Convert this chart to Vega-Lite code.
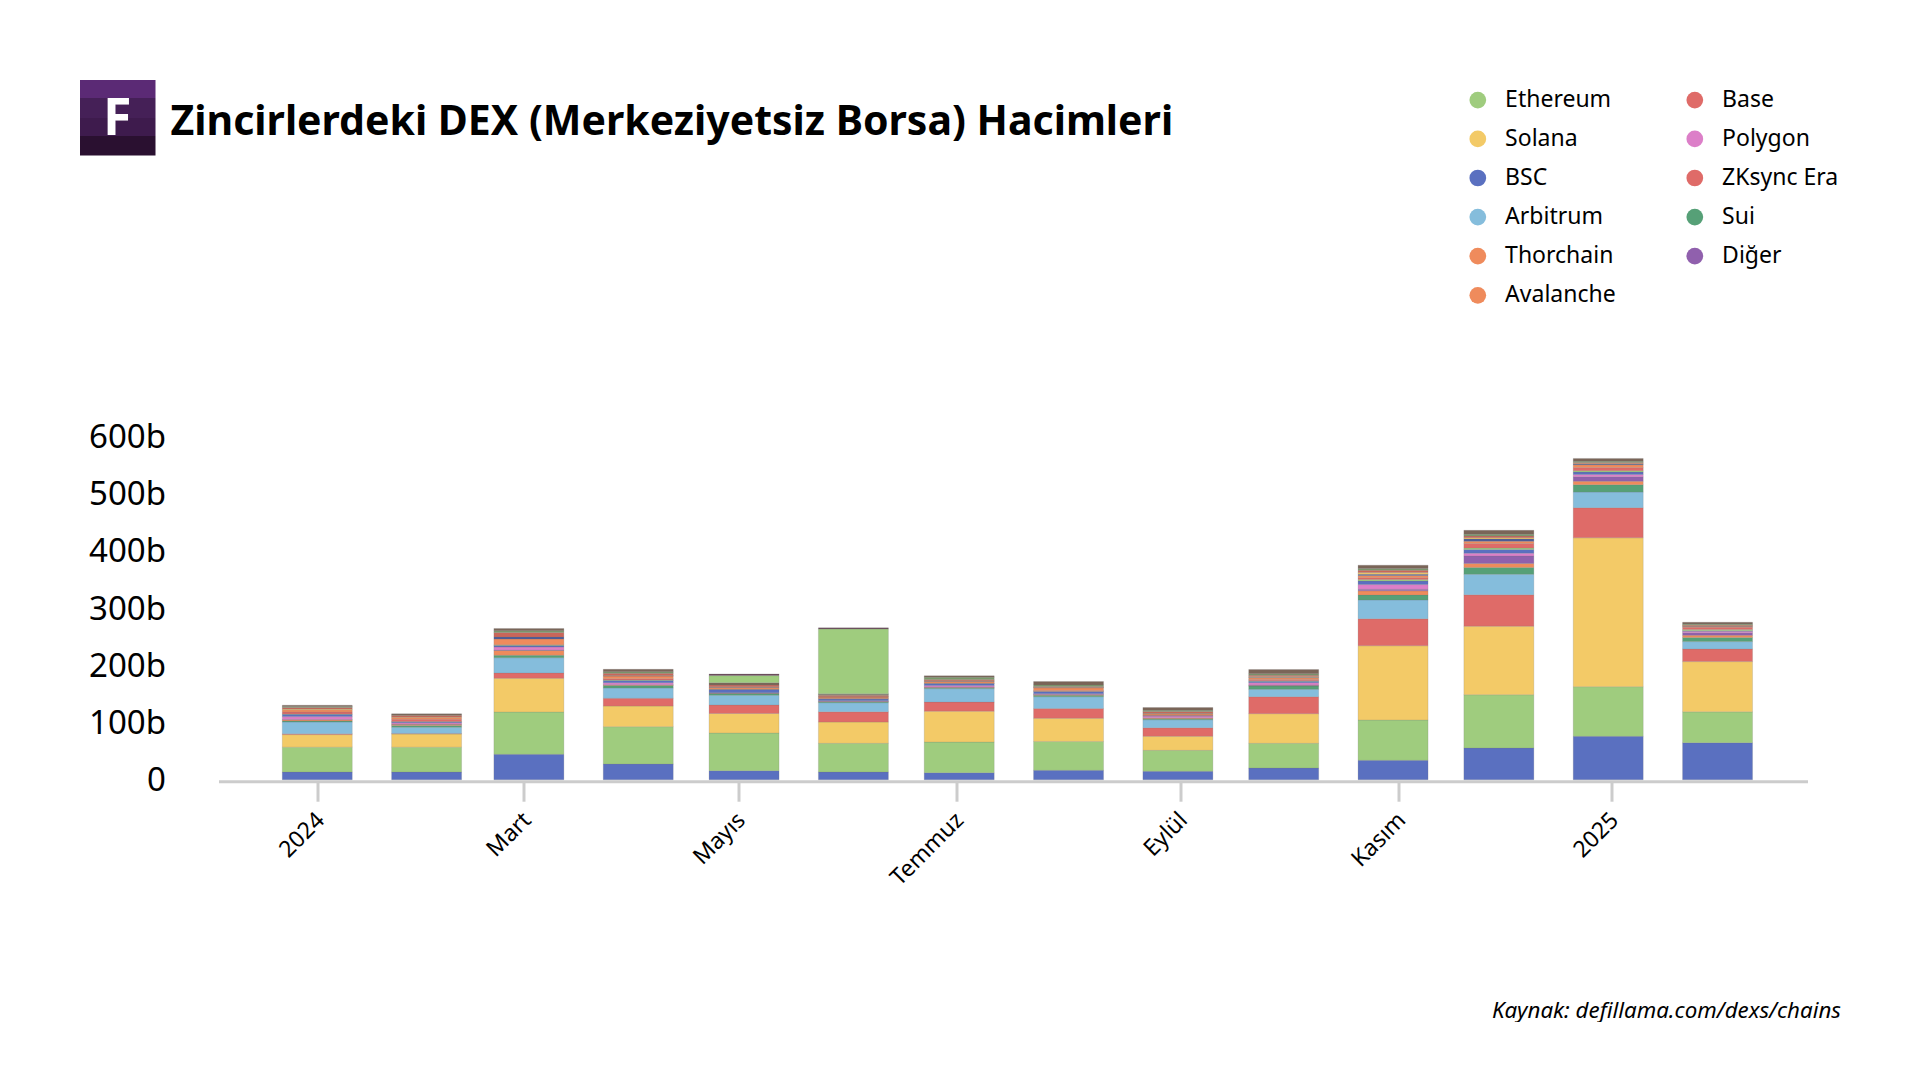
{"$schema":"https://vega.github.io/schema/vega-lite/v6.json","background":"white","padding":{"left":80,"top":80,"right":0,"bottom":0},"bounds":"flush","spacing":62.5,"config":{"view":{"stroke":null},"font":"Noto Sans"},"datasets":{"hacimler":[
{"ay":"2024-01-01","zincir":"BSC","hacim":13.4,"sira":1},{"ay":"2024-01-01","zincir":"Ethereum","hacim":43.6,"sira":2},{"ay":"2024-01-01","zincir":"Solana","hacim":22,"sira":3},{"ay":"2024-01-01","zincir":"Base","hacim":1.6,"sira":4},{"ay":"2024-01-01","zincir":"Arbitrum","hacim":20.4,"sira":5},{"ay":"2024-01-01","zincir":"Sui","hacim":2,"sira":6},{"ay":"2024-01-01","zincir":"Thorchain","hacim":2,"sira":7},{"ay":"2024-01-01","zincir":"Diğer","hacim":0.6,"sira":8},{"ay":"2024-01-01","zincir":"Polygon","hacim":5,"sira":9},{"ay":"2024-01-01","zincir":"Zincir A","hacim":4,"sira":10},{"ay":"2024-01-01","zincir":"Zincir B","hacim":0.6,"sira":11},{"ay":"2024-01-01","zincir":"ZKsync Era","hacim":3.5,"sira":12},{"ay":"2024-01-01","zincir":"Avalanche","hacim":4,"sira":13},{"ay":"2024-01-01","zincir":"Zincir D","hacim":1,"sira":15},{"ay":"2024-01-01","zincir":"Zincir E","hacim":3,"sira":16},{"ay":"2024-01-01","zincir":"Zincir F","hacim":1.5,"sira":17},{"ay":"2024-01-01","zincir":"Zincir G","hacim":2.4,"sira":18},
{"ay":"2024-02-01","zincir":"BSC","hacim":13.4,"sira":1},{"ay":"2024-02-01","zincir":"Ethereum","hacim":43.6,"sira":2},{"ay":"2024-02-01","zincir":"Solana","hacim":23,"sira":3},{"ay":"2024-02-01","zincir":"Base","hacim":1,"sira":4},{"ay":"2024-02-01","zincir":"Arbitrum","hacim":11,"sira":5},{"ay":"2024-02-01","zincir":"Sui","hacim":3,"sira":6},{"ay":"2024-02-01","zincir":"Thorchain","hacim":2,"sira":7},{"ay":"2024-02-01","zincir":"Diğer","hacim":0.5,"sira":8},{"ay":"2024-02-01","zincir":"Polygon","hacim":2.5,"sira":9},{"ay":"2024-02-01","zincir":"Zincir A","hacim":1.5,"sira":10},{"ay":"2024-02-01","zincir":"Zincir B","hacim":0.5,"sira":11},{"ay":"2024-02-01","zincir":"ZKsync Era","hacim":4,"sira":12},{"ay":"2024-02-01","zincir":"Avalanche","hacim":3.5,"sira":13},{"ay":"2024-02-01","zincir":"Zincir D","hacim":0.5,"sira":15},{"ay":"2024-02-01","zincir":"Zincir E","hacim":3,"sira":16},{"ay":"2024-02-01","zincir":"Zincir F","hacim":0.5,"sira":17},{"ay":"2024-02-01","zincir":"Zincir G","hacim":2,"sira":18},
{"ay":"2024-03-01","zincir":"BSC","hacim":44.4,"sira":1},{"ay":"2024-03-01","zincir":"Ethereum","hacim":74.2,"sira":2},{"ay":"2024-03-01","zincir":"Solana","hacim":59,"sira":3},{"ay":"2024-03-01","zincir":"Base","hacim":9.4,"sira":4},{"ay":"2024-03-01","zincir":"Arbitrum","hacim":26.8,"sira":5},{"ay":"2024-03-01","zincir":"Sui","hacim":4.2,"sira":6},{"ay":"2024-03-01","zincir":"Thorchain","hacim":8.6,"sira":7},{"ay":"2024-03-01","zincir":"Diğer","hacim":0.5,"sira":8},{"ay":"2024-03-01","zincir":"Polygon","hacim":5.4,"sira":9},{"ay":"2024-03-01","zincir":"Zincir A","hacim":2.5,"sira":10},{"ay":"2024-03-01","zincir":"Zincir B","hacim":1,"sira":11},{"ay":"2024-03-01","zincir":"ZKsync Era","hacim":0.5,"sira":12},{"ay":"2024-03-01","zincir":"Avalanche","hacim":10.1,"sira":13},{"ay":"2024-03-01","zincir":"Zincir C","hacim":3.4,"sira":14},{"ay":"2024-03-01","zincir":"Zincir E","hacim":8,"sira":16},{"ay":"2024-03-01","zincir":"Zincir F","hacim":3,"sira":17},{"ay":"2024-03-01","zincir":"Zincir G","hacim":4,"sira":18},
{"ay":"2024-04-01","zincir":"BSC","hacim":27.5,"sira":1},{"ay":"2024-04-01","zincir":"Ethereum","hacim":65.4,"sira":2},{"ay":"2024-04-01","zincir":"Solana","hacim":36.1,"sira":3},{"ay":"2024-04-01","zincir":"Base","hacim":13.6,"sira":4},{"ay":"2024-04-01","zincir":"Arbitrum","hacim":18.1,"sira":5},{"ay":"2024-04-01","zincir":"Sui","hacim":4.3,"sira":6},{"ay":"2024-04-01","zincir":"Thorchain","hacim":1,"sira":7},{"ay":"2024-04-01","zincir":"Diğer","hacim":0.5,"sira":8},{"ay":"2024-04-01","zincir":"Polygon","hacim":3.5,"sira":9},{"ay":"2024-04-01","zincir":"Zincir A","hacim":4,"sira":10},{"ay":"2024-04-01","zincir":"Zincir B","hacim":0.5,"sira":11},{"ay":"2024-04-01","zincir":"ZKsync Era","hacim":2.5,"sira":12},{"ay":"2024-04-01","zincir":"Avalanche","hacim":4.7,"sira":13},{"ay":"2024-04-01","zincir":"Zincir C","hacim":0.3,"sira":14},{"ay":"2024-04-01","zincir":"Zincir D","hacim":0.5,"sira":15},{"ay":"2024-04-01","zincir":"Zincir E","hacim":4,"sira":16},{"ay":"2024-04-01","zincir":"Zincir F","hacim":2.5,"sira":17},{"ay":"2024-04-01","zincir":"Zincir G","hacim":4.5,"sira":18},
{"ay":"2024-05-01","zincir":"BSC","hacim":15.8,"sira":1},{"ay":"2024-05-01","zincir":"Ethereum","hacim":66,"sira":2},{"ay":"2024-05-01","zincir":"Solana","hacim":34.2,"sira":3},{"ay":"2024-05-01","zincir":"Base","hacim":15,"sira":4},{"ay":"2024-05-01","zincir":"Arbitrum","hacim":17,"sira":5},{"ay":"2024-05-01","zincir":"Sui","hacim":3,"sira":6},{"ay":"2024-05-01","zincir":"Thorchain","hacim":0.5,"sira":7},{"ay":"2024-05-01","zincir":"Diğer","hacim":0.3,"sira":8},{"ay":"2024-05-01","zincir":"Polygon","hacim":0.7,"sira":9},{"ay":"2024-05-01","zincir":"Zincir A","hacim":5.5,"sira":10},{"ay":"2024-05-01","zincir":"Zincir B","hacim":0.3,"sira":11},{"ay":"2024-05-01","zincir":"ZKsync Era","hacim":0.7,"sira":12},{"ay":"2024-05-01","zincir":"Avalanche","hacim":3,"sira":13},{"ay":"2024-05-01","zincir":"Zincir C","hacim":0.5,"sira":14},{"ay":"2024-05-01","zincir":"Zincir D","hacim":0.5,"sira":15},{"ay":"2024-05-01","zincir":"Zincir E","hacim":3,"sira":16},{"ay":"2024-05-01","zincir":"Zincir G","hacim":4,"sira":18},{"ay":"2024-05-01","zincir":"Zincir H","hacim":12.4,"sira":19},{"ay":"2024-05-01","zincir":"Zincir I","hacim":3,"sira":20},
{"ay":"2024-06-01","zincir":"BSC","hacim":13.4,"sira":1},{"ay":"2024-06-01","zincir":"Ethereum","hacim":50.3,"sira":2},{"ay":"2024-06-01","zincir":"Solana","hacim":37.3,"sira":3},{"ay":"2024-06-01","zincir":"Base","hacim":18,"sira":4},{"ay":"2024-06-01","zincir":"Arbitrum","hacim":16,"sira":5},{"ay":"2024-06-01","zincir":"Sui","hacim":1.5,"sira":6},{"ay":"2024-06-01","zincir":"Thorchain","hacim":0.5,"sira":7},{"ay":"2024-06-01","zincir":"Diğer","hacim":0.3,"sira":8},{"ay":"2024-06-01","zincir":"Polygon","hacim":1.2,"sira":9},{"ay":"2024-06-01","zincir":"Zincir A","hacim":3,"sira":10},{"ay":"2024-06-01","zincir":"Zincir B","hacim":0.3,"sira":11},{"ay":"2024-06-01","zincir":"ZKsync Era","hacim":1,"sira":12},{"ay":"2024-06-01","zincir":"Avalanche","hacim":2.2,"sira":13},{"ay":"2024-06-01","zincir":"Zincir C","hacim":0.2,"sira":14},{"ay":"2024-06-01","zincir":"Zincir D","hacim":0.3,"sira":15},{"ay":"2024-06-01","zincir":"Zincir E","hacim":2.5,"sira":16},{"ay":"2024-06-01","zincir":"Zincir F","hacim":1.5,"sira":17},{"ay":"2024-06-01","zincir":"Zincir G","hacim":1,"sira":18},{"ay":"2024-06-01","zincir":"Zincir H","hacim":113.6,"sira":19},{"ay":"2024-06-01","zincir":"Zincir I","hacim":2,"sira":20},
{"ay":"2024-07-01","zincir":"BSC","hacim":12.3,"sira":1},{"ay":"2024-07-01","zincir":"Ethereum","hacim":53.7,"sira":2},{"ay":"2024-07-01","zincir":"Solana","hacim":54,"sira":3},{"ay":"2024-07-01","zincir":"Base","hacim":16,"sira":4},{"ay":"2024-07-01","zincir":"Arbitrum","hacim":23.6,"sira":5},{"ay":"2024-07-01","zincir":"Sui","hacim":1.4,"sira":6},{"ay":"2024-07-01","zincir":"Thorchain","hacim":1,"sira":7},{"ay":"2024-07-01","zincir":"Diğer","hacim":0.6,"sira":8},{"ay":"2024-07-01","zincir":"Polygon","hacim":2.4,"sira":9},{"ay":"2024-07-01","zincir":"Zincir A","hacim":3.5,"sira":10},{"ay":"2024-07-01","zincir":"Zincir B","hacim":0.5,"sira":11},{"ay":"2024-07-01","zincir":"ZKsync Era","hacim":0.5,"sira":12},{"ay":"2024-07-01","zincir":"Avalanche","hacim":3,"sira":13},{"ay":"2024-07-01","zincir":"Zincir C","hacim":0.5,"sira":14},{"ay":"2024-07-01","zincir":"Zincir D","hacim":0.5,"sira":15},{"ay":"2024-07-01","zincir":"Zincir E","hacim":2,"sira":16},{"ay":"2024-07-01","zincir":"Zincir F","hacim":4,"sira":17},{"ay":"2024-07-01","zincir":"Zincir G","hacim":2.5,"sira":18},
{"ay":"2024-08-01","zincir":"BSC","hacim":16.4,"sira":1},{"ay":"2024-08-01","zincir":"Ethereum","hacim":50.6,"sira":2},{"ay":"2024-08-01","zincir":"Solana","hacim":40.5,"sira":3},{"ay":"2024-08-01","zincir":"Base","hacim":17.1,"sira":4},{"ay":"2024-08-01","zincir":"Arbitrum","hacim":20.9,"sira":5},{"ay":"2024-08-01","zincir":"Sui","hacim":2.5,"sira":6},{"ay":"2024-08-01","zincir":"Thorchain","hacim":1,"sira":7},{"ay":"2024-08-01","zincir":"Diğer","hacim":0.5,"sira":8},{"ay":"2024-08-01","zincir":"Polygon","hacim":1,"sira":9},{"ay":"2024-08-01","zincir":"Zincir A","hacim":4,"sira":10},{"ay":"2024-08-01","zincir":"Zincir B","hacim":0.5,"sira":11},{"ay":"2024-08-01","zincir":"ZKsync Era","hacim":1.5,"sira":12},{"ay":"2024-08-01","zincir":"Avalanche","hacim":4.5,"sira":13},{"ay":"2024-08-01","zincir":"Zincir C","hacim":0.5,"sira":14},{"ay":"2024-08-01","zincir":"Zincir D","hacim":0.5,"sira":15},{"ay":"2024-08-01","zincir":"Zincir E","hacim":1.5,"sira":16},{"ay":"2024-08-01","zincir":"Zincir F","hacim":2.5,"sira":17},{"ay":"2024-08-01","zincir":"Zincir G","hacim":6,"sira":18},
{"ay":"2024-09-01","zincir":"BSC","hacim":14.6,"sira":1},{"ay":"2024-09-01","zincir":"Ethereum","hacim":36.8,"sira":2},{"ay":"2024-09-01","zincir":"Solana","hacim":24.6,"sira":3},{"ay":"2024-09-01","zincir":"Base","hacim":15,"sira":4},{"ay":"2024-09-01","zincir":"Arbitrum","hacim":14,"sira":5},{"ay":"2024-09-01","zincir":"Sui","hacim":2,"sira":6},{"ay":"2024-09-01","zincir":"Thorchain","hacim":1,"sira":7},{"ay":"2024-09-01","zincir":"Diğer","hacim":0.5,"sira":8},{"ay":"2024-09-01","zincir":"Polygon","hacim":3,"sira":9},{"ay":"2024-09-01","zincir":"Zincir A","hacim":0.5,"sira":10},{"ay":"2024-09-01","zincir":"Zincir B","hacim":0.5,"sira":11},{"ay":"2024-09-01","zincir":"ZKsync Era","hacim":1,"sira":12},{"ay":"2024-09-01","zincir":"Avalanche","hacim":2,"sira":13},{"ay":"2024-09-01","zincir":"Zincir C","hacim":0.5,"sira":14},{"ay":"2024-09-01","zincir":"Zincir D","hacim":0.5,"sira":15},{"ay":"2024-09-01","zincir":"Zincir E","hacim":3,"sira":16},{"ay":"2024-09-01","zincir":"Zincir F","hacim":2,"sira":17},{"ay":"2024-09-01","zincir":"Zincir G","hacim":5,"sira":18},
{"ay":"2024-10-01","zincir":"BSC","hacim":20.4,"sira":1},{"ay":"2024-10-01","zincir":"Ethereum","hacim":43.3,"sira":2},{"ay":"2024-10-01","zincir":"Solana","hacim":52,"sira":3},{"ay":"2024-10-01","zincir":"Base","hacim":29.8,"sira":4},{"ay":"2024-10-01","zincir":"Arbitrum","hacim":12.8,"sira":5},{"ay":"2024-10-01","zincir":"Sui","hacim":5.7,"sira":6},{"ay":"2024-10-01","zincir":"Thorchain","hacim":1,"sira":7},{"ay":"2024-10-01","zincir":"Diğer","hacim":1,"sira":8},{"ay":"2024-10-01","zincir":"Polygon","hacim":4,"sira":9},{"ay":"2024-10-01","zincir":"Zincir A","hacim":2.5,"sira":10},{"ay":"2024-10-01","zincir":"Zincir B","hacim":1,"sira":11},{"ay":"2024-10-01","zincir":"ZKsync Era","hacim":2,"sira":12},{"ay":"2024-10-01","zincir":"Avalanche","hacim":3,"sira":13},{"ay":"2024-10-01","zincir":"Zincir C","hacim":1,"sira":14},{"ay":"2024-10-01","zincir":"Zincir D","hacim":1.5,"sira":15},{"ay":"2024-10-01","zincir":"Zincir E","hacim":2,"sira":16},{"ay":"2024-10-01","zincir":"Zincir F","hacim":2.5,"sira":17},{"ay":"2024-10-01","zincir":"Zincir G","hacim":7.5,"sira":18},
{"ay":"2024-11-01","zincir":"BSC","hacim":33.9,"sira":1},{"ay":"2024-11-01","zincir":"Ethereum","hacim":70.7,"sira":2},{"ay":"2024-11-01","zincir":"Solana","hacim":130.2,"sira":3},{"ay":"2024-11-01","zincir":"Base","hacim":47.2,"sira":4},{"ay":"2024-11-01","zincir":"Arbitrum","hacim":33,"sira":5},{"ay":"2024-11-01","zincir":"Sui","hacim":8.6,"sira":6},{"ay":"2024-11-01","zincir":"Thorchain","hacim":7.4,"sira":7},{"ay":"2024-11-01","zincir":"Diğer","hacim":2.6,"sira":8},{"ay":"2024-11-01","zincir":"Polygon","hacim":8.4,"sira":9},{"ay":"2024-11-01","zincir":"Zincir A","hacim":6,"sira":10},{"ay":"2024-11-01","zincir":"Zincir B","hacim":3,"sira":11},{"ay":"2024-11-01","zincir":"ZKsync Era","hacim":3,"sira":12},{"ay":"2024-11-01","zincir":"Avalanche","hacim":4,"sira":13},{"ay":"2024-11-01","zincir":"Zincir C","hacim":2,"sira":14},{"ay":"2024-11-01","zincir":"Zincir D","hacim":3,"sira":15},{"ay":"2024-11-01","zincir":"Zincir E","hacim":4,"sira":16},{"ay":"2024-11-01","zincir":"Zincir F","hacim":3,"sira":17},{"ay":"2024-11-01","zincir":"Zincir G","hacim":6,"sira":18},
{"ay":"2024-12-01","zincir":"BSC","hacim":55.5,"sira":1},{"ay":"2024-12-01","zincir":"Ethereum","hacim":93.5,"sira":2},{"ay":"2024-12-01","zincir":"Solana","hacim":120,"sira":3},{"ay":"2024-12-01","zincir":"Base","hacim":55,"sira":4},{"ay":"2024-12-01","zincir":"Arbitrum","hacim":36,"sira":5},{"ay":"2024-12-01","zincir":"Sui","hacim":12,"sira":6},{"ay":"2024-12-01","zincir":"Thorchain","hacim":7,"sira":7},{"ay":"2024-12-01","zincir":"Diğer","hacim":13,"sira":8},{"ay":"2024-12-01","zincir":"Polygon","hacim":5,"sira":9},{"ay":"2024-12-01","zincir":"Zincir A","hacim":6.6,"sira":10},{"ay":"2024-12-01","zincir":"Zincir B","hacim":2.4,"sira":11},{"ay":"2024-12-01","zincir":"ZKsync Era","hacim":8,"sira":12},{"ay":"2024-12-01","zincir":"Avalanche","hacim":4,"sira":13},{"ay":"2024-12-01","zincir":"Zincir C","hacim":4,"sira":14},{"ay":"2024-12-01","zincir":"Zincir D","hacim":2,"sira":15},{"ay":"2024-12-01","zincir":"Zincir E","hacim":3,"sira":16},{"ay":"2024-12-01","zincir":"Zincir F","hacim":3,"sira":17},{"ay":"2024-12-01","zincir":"Zincir G","hacim":7,"sira":18},
{"ay":"2025-01-01","zincir":"BSC","hacim":76,"sira":1},{"ay":"2025-01-01","zincir":"Ethereum","hacim":87,"sira":2},{"ay":"2025-01-01","zincir":"Solana","hacim":261,"sira":3},{"ay":"2025-01-01","zincir":"Base","hacim":52.7,"sira":4},{"ay":"2025-01-01","zincir":"Arbitrum","hacim":27.3,"sira":5},{"ay":"2025-01-01","zincir":"Sui","hacim":13,"sira":6},{"ay":"2025-01-01","zincir":"Thorchain","hacim":6,"sira":7},{"ay":"2025-01-01","zincir":"Diğer","hacim":8,"sira":8},{"ay":"2025-01-01","zincir":"Polygon","hacim":4,"sira":9},{"ay":"2025-01-01","zincir":"Zincir A","hacim":4,"sira":10},{"ay":"2025-01-01","zincir":"Zincir B","hacim":2.5,"sira":11},{"ay":"2025-01-01","zincir":"ZKsync Era","hacim":5.5,"sira":12},{"ay":"2025-01-01","zincir":"Avalanche","hacim":5,"sira":13},{"ay":"2025-01-01","zincir":"Zincir C","hacim":1,"sira":14},{"ay":"2025-01-01","zincir":"Zincir D","hacim":1,"sira":15},{"ay":"2025-01-01","zincir":"Zincir E","hacim":2,"sira":16},{"ay":"2025-01-01","zincir":"Zincir F","hacim":2,"sira":17},{"ay":"2025-01-01","zincir":"Zincir G","hacim":5,"sira":18},
{"ay":"2025-02-01","zincir":"BSC","hacim":64.9,"sira":1},{"ay":"2025-02-01","zincir":"Ethereum","hacim":54.1,"sira":2},{"ay":"2025-02-01","zincir":"Solana","hacim":88,"sira":3},{"ay":"2025-02-01","zincir":"Base","hacim":22,"sira":4},{"ay":"2025-02-01","zincir":"Arbitrum","hacim":13,"sira":5},{"ay":"2025-02-01","zincir":"Sui","hacim":7.4,"sira":6},{"ay":"2025-02-01","zincir":"Thorchain","hacim":3.6,"sira":7},{"ay":"2025-02-01","zincir":"Diğer","hacim":4.5,"sira":8},{"ay":"2025-02-01","zincir":"Polygon","hacim":2.5,"sira":9},{"ay":"2025-02-01","zincir":"Zincir A","hacim":1,"sira":10},{"ay":"2025-02-01","zincir":"Zincir B","hacim":2.4,"sira":11},{"ay":"2025-02-01","zincir":"ZKsync Era","hacim":3.6,"sira":12},{"ay":"2025-02-01","zincir":"Avalanche","hacim":2,"sira":13},{"ay":"2025-02-01","zincir":"Zincir C","hacim":0.5,"sira":14},{"ay":"2025-02-01","zincir":"Zincir D","hacim":0.5,"sira":15},{"ay":"2025-02-01","zincir":"Zincir E","hacim":1.5,"sira":16},{"ay":"2025-02-01","zincir":"Zincir F","hacim":1.5,"sira":17},{"ay":"2025-02-01","zincir":"Zincir G","hacim":3,"sira":18}
]},"hconcat":[{"width":75.5,"height":75.5,"data":{"values":[{"logo":"F"}]},"layer":[{"mark":{"type":"rect","fill":{"gradient":"linear","x1":0,"y1":0,"x2":0,"y2":1,"stops":[{"offset":0,"color":"#5b2a75"},{"offset":0.24,"color":"#5b2a75"},{"offset":0.24,"color":"#452057"},{"offset":0.5,"color":"#452057"},{"offset":0.5,"color":"#3e1b4d"},{"offset":0.74,"color":"#3e1b4d"},{"offset":0.74,"color":"#2a1030"},{"offset":1,"color":"#2a1030"}]}}},{"mark":{"type":"text","color":"white","fontWeight":"bold","fontSize":52,"dy":1,"dx":-0.5,"font":"Noto Sans"},"encoding":{"text":{"field":"logo"}}}]},{"bounds":"flush","spacing":281.3,"vconcat":[{"width":1589,"height":75.5,"data":{"values":[{"baslik":"Zincirlerdeki DEX (Merkeziyetsiz Borsa) Hacimleri"}]},"mark":{"type":"text","align":"left","dx":-842.5,"dy":5.5,"fontWeight":"bold","fontSize":41,"color":"#000000","font":"Noto Sans"},"encoding":{"text":{"field":"baslik"}}},{"width":1589,"height":342.4,"data":{"name":"hacimler"},"mark":{"type":"bar","width":70,"stroke":"#777777","strokeWidth":1,"strokeOpacity":0.2},"encoding":{"x":{"field":"ay","type":"temporal","scale":{"type":"utc","nice":false,"padding":0,"domain":["2023-12-04","2025-02-26T12:00:00"]},"axis":{"title":"Kaynak: defillama.com/dexs/chains","titleFontStyle":"italic","titleFontWeight":"normal","titleFontSize":22.3,"titleColor":"#000000","titleAlign":"right","titleBaseline":"middle","titleX":1622,"titleY":229,"offset":1.5,"values":["2024-01-01","2024-02-28T14:00:00","2024-04-29T08:00:00","2024-06-30T06:00:00","2024-09-01T16:00:00","2024-11-02T14:00:00","2025-01-01T22:00:00"],"labelExpr":"['2024','Mart','Mayıs','Temmuz','Eylül','Kasım','2025'][round(datum.index*6)]","labelAngle":-45,"labelAlign":"right","labelBaseline":"middle","labelFontSize":23,"labelColor":"#000000","labelPadding":15,"labelOffset":3,"grid":false,"tickSize":20,"tickWidth":3,"tickColor":"#cccccc","domainColor":"#cccccc","domainWidth":3}},"y":{"field":"hacim","type":"quantitative","stack":"zero","scale":{"domain":[0,600],"nice":false},"axis":{"title":null,"values":[0,100,200,300,400,500,600],"labelExpr":"datum.value==0?'0':datum.value+'b'","labelFontSize":33,"labelColor":"#000000","labelPadding":53,"labelOffset":0.5,"ticks":false,"domain":false,"grid":false}},"order":{"field":"sira","type":"quantitative"},"color":{"field":"zincir","type":"nominal","scale":{"domain":["Ethereum","Solana","BSC","Arbitrum","Thorchain","Avalanche","Base","Polygon","ZKsync Era","Sui","Diğer","Zincir A","Zincir B","Zincir C","Zincir D","Zincir E","Zincir F","Zincir G","Zincir H","Zincir I"],"range":["#9fcc7e","#f3ca67","#5a70c0","#85bddc","#ef8b5c","#ef8b5c","#df6b68","#dc7fc8","#df6b68","#56a077","#9060ad","#5a70c0","#9fcc7e","#4a5a9a","#f3ca67","#c9665a","#7a9a6a","#7a6558","#9fcc7e","#6b4a5a"]},"legend":{"title":null,"orient":"none","legendX":1386.3,"legendY":8.3,"direction":"vertical","columns":2,"values":["Ethereum","Solana","BSC","Arbitrum","Thorchain","Avalanche","Base","Polygon","ZKsync Era","Sui","Diğer"],"symbolType":"circle","symbolSize":280,"symbolOpacity":1,"symbolStrokeWidth":0,"labelFontSize":23,"labelColor":"#000000","labelOffset":15.8,"columnPadding":67,"rowPadding":15.1,"labelLimit":300}}}}]}]}
